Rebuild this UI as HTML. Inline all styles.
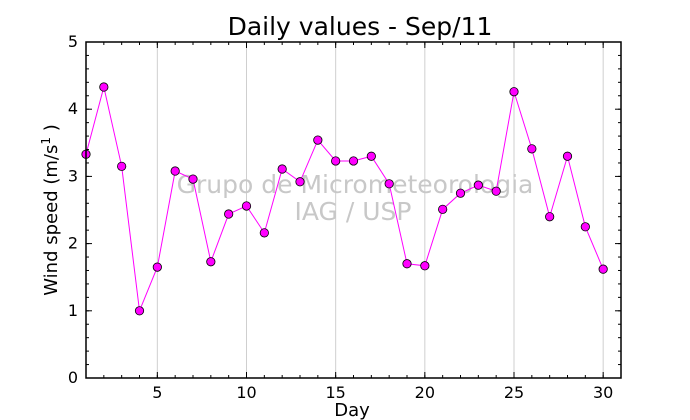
<!DOCTYPE html>
<html><head><meta charset="utf-8"><style>body{margin:0;background:#fff}svg{display:block;font-family:"DejaVu Sans","Liberation Sans",sans-serif}</style></head>
<body>
<svg id="chart" width="690" height="420" viewBox="0 0 690 420">
<rect width="690" height="420" fill="#fff"/>
<text x="360" y="35" font-size="25" text-anchor="middle">Daily values - Sep/11</text>
<g id="grid"></g>
<g fill="#c8c8c8" font-size="25" text-anchor="middle">
<text x="355" y="193">Grupo de Micrometeorologia</text>
<text x="353" y="220">IAG / USP</text></g>
<g id="series"></g>
<rect x="86" y="42" width="535" height="336" fill="none" stroke="#000" stroke-width="1.5"/>
<g id="axes"></g>
<text x="352" y="416" font-size="18" text-anchor="middle">Day</text>
<text transform="translate(57,210) rotate(-90)" font-size="18" text-anchor="middle">Wind speed (m/s<tspan font-size="12" dy="-7">1</tspan><tspan dy="7"> )</tspan></text>
</svg>
<script>
const days=[1,2,3,4,5,6,7,8,9,10,11,12,13,14,15,16,17,18,19,20,21,22,23,24,25,26,27,28,29,30];
const windSpeed=[3.33,4.33,3.15,1.0,1.65,3.08,2.96,1.73,2.44,2.56,2.16,3.11,2.92,3.54,3.23,3.23,3.30,2.89,1.70,1.67,2.51,2.75,2.87,2.78,4.26,3.41,2.40,3.30,2.25,1.62];
const xTicks=[5,10,15,20,25,30];
const yTicks=[0,1,2,3,4,5];
const X0=86,X1=621,Y0=378,Y1=42,xmin=1,xmax=31,ymin=0,ymax=5;
const sx=v=>X0+(v-xmin)/(xmax-xmin)*(X1-X0);
const sy=v=>Y0-(v-ymin)/(ymax-ymin)*(Y0-Y1);
const NS="http://www.w3.org/2000/svg";
function mk(t,a,p){const e=document.createElementNS(NS,t);for(const k in a)e.setAttribute(k,a[k]);p.appendChild(e);return e;}
const grid=document.getElementById('grid'),axes=document.getElementById('axes'),ser=document.getElementById('series');
xTicks.forEach(t=>{const l=mk('line',{x1:sx(t),x2:sx(t),y1:Y1,y2:Y0,stroke:'#cfcfcf','stroke-width':1},grid);

mk('line',{x1:sx(t),x2:sx(t),y1:Y0,y2:Y0-6,stroke:'#000'},axes);
mk('line',{x1:sx(t),x2:sx(t),y1:Y1,y2:Y1+6,stroke:'#000'},axes);
const tx=mk('text',{x:sx(t),y:Y0+20,'font-size':16,'text-anchor':'middle'},axes);tx.textContent=t;
});
for(let d=xmin;d<=xmax;d++){mk('line',{x1:sx(d),x2:sx(d),y1:Y0,y2:Y0-3,stroke:'#000'},axes);mk('line',{x1:sx(d),x2:sx(d),y1:Y1,y2:Y1+3,stroke:'#000'},axes);}
yTicks.forEach(t=>{mk('line',{x1:X0,x2:X0+6,y1:sy(t),y2:sy(t),stroke:'#000'},axes);
mk('line',{x1:X1,x2:X1-6,y1:sy(t),y2:sy(t),stroke:'#000'},axes);
const tx=mk('text',{x:X0-8,y:sy(t)+5,'font-size':16,'text-anchor':'end'},axes);tx.textContent=t;
});
for(let v=0;v<=5.001;v+=0.2){mk('line',{x1:X0,x2:X0+3,y1:sy(v),y2:sy(v),stroke:'#000'},axes);mk('line',{x1:X1,x2:X1-3,y1:sy(v),y2:sy(v),stroke:'#000'},axes);}
const line=mk('polyline',{points:days.map((d,i)=>sx(d)+','+sy(windSpeed[i])).join(' '),fill:'none',stroke:'#ff00ff','stroke-width':1},ser);

days.forEach((d,i)=>{const c=mk('circle',{cx:sx(d),cy:sy(windSpeed[i]),r:4.2,fill:'#ff00ff',stroke:'#000','stroke-width':0.8},ser);
});
</script>
</body></html>
